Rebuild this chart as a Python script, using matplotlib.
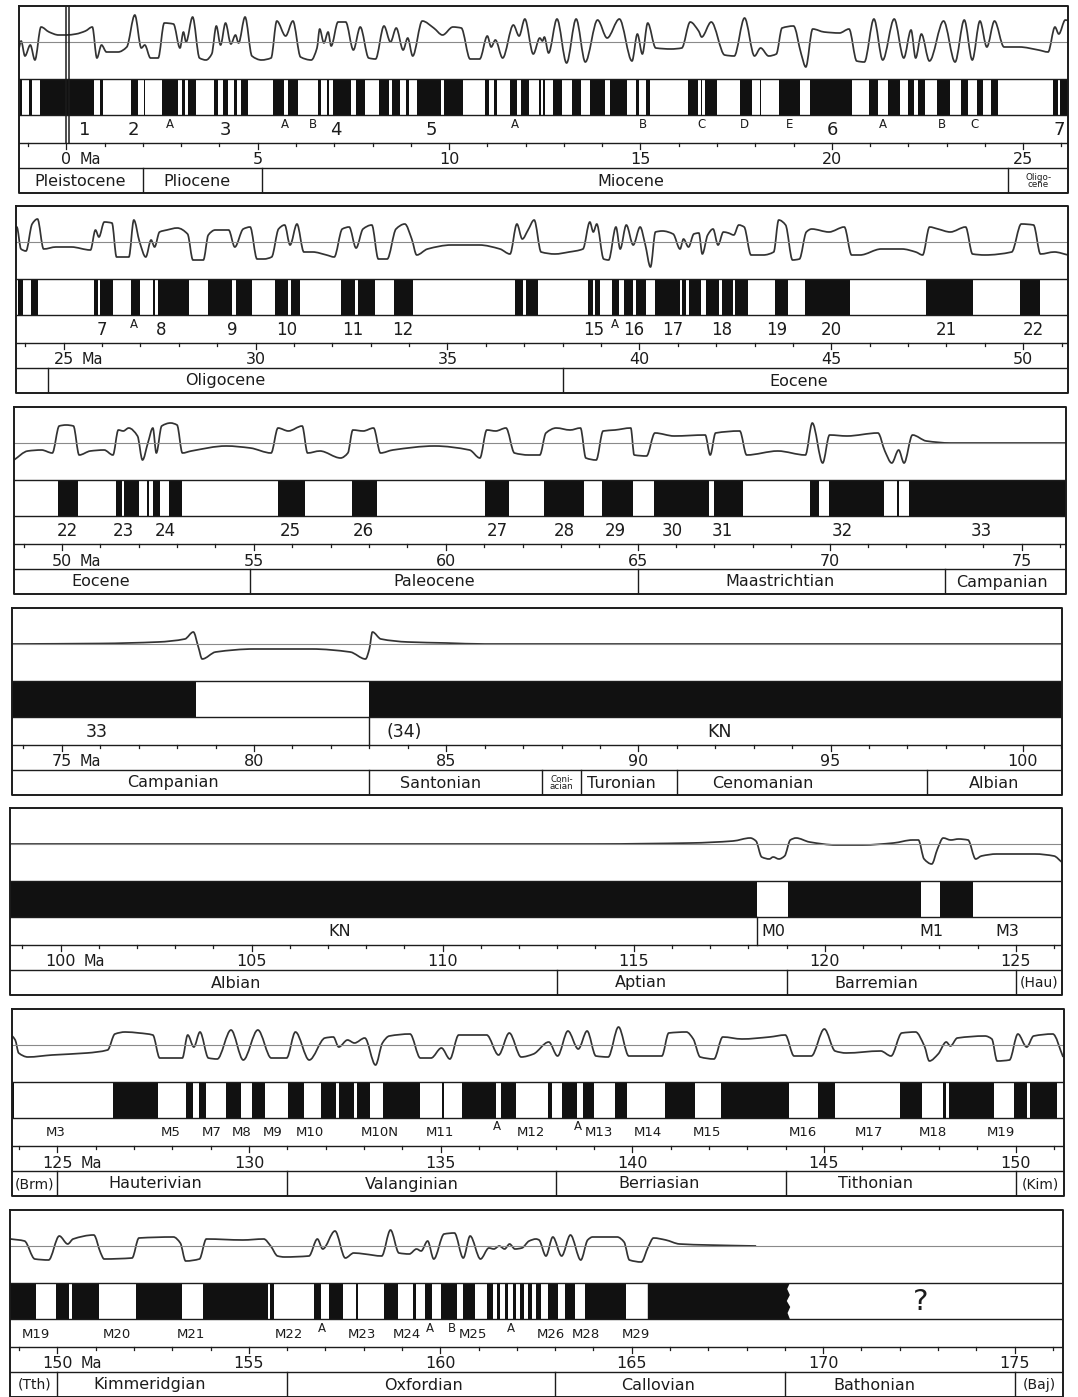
#!/usr/bin/env python3
"""Seven strips of modelled magnetic anomaly, polarity sequence and age scale, 0-176 Ma."""
import math

import matplotlib
matplotlib.use("Agg")
import matplotlib.pyplot as plt
from matplotlib.patches import Rectangle, Polygon, PathPatch
from matplotlib.path import Path

W, H = 1078, 1397
plt.rcParams.update({"font.family": "DejaVu Sans", "text.color": "#1c1c1c"})

# --- normal polarity (black) intervals, Ma; negative ages = mirrored ridge flank
NORM_A = [(-1.20, -1.17), (-0.97, -0.90), (-0.70, 0.73), (0.88, 0.95), (1.69, 1.88),
          (2.03, 2.06), (2.50, 2.93), (3.02, 3.10), (3.17, 3.40), (3.87, 3.96),
          (4.10, 4.22), (4.38, 4.46), (4.56, 4.76), (5.40, 5.68), (5.78, 6.06),
          (6.58, 6.65), (6.80, 6.87), (6.97, 7.45), (7.56, 7.80), (8.18, 8.42),
          (8.52, 8.72), (8.88, 8.96), (9.16, 9.80), (9.86, 10.36), (10.95, 11.04),
          (11.18, 11.24), (11.60, 11.78), (11.88, 12.08), (12.35, 12.40), (12.46, 12.51),
          (12.71, 12.94), (13.21, 13.44), (13.69, 14.07), (14.20, 14.66), (14.88, 14.97),
          (15.14, 15.24), (16.24, 16.51), (16.58, 16.62), (16.69, 17.01), (17.59, 17.91),
          (18.13, 18.16), (18.63, 19.17), (19.44, 20.53), (20.98, 21.21), (21.48, 21.79),
          (22.00, 22.15), (22.24, 22.43), (22.74, 23.10), (23.37, 23.55), (23.80, 23.95),
          (24.15, 24.33), (25.79, 25.90), (25.95, 26.29)]
NORM_B = [(26.76, 26.98), (27.33, 27.39), (27.46, 28.28), (28.77, 29.39), (29.48, 29.90),
          (30.51, 30.84), (30.93, 31.17), (32.23, 32.59), (32.68, 33.12), (33.62, 34.09),
          (36.76, 36.96), (37.05, 37.37), (38.66, 38.78), (38.84, 38.98), (39.30, 39.48),
          (39.59, 39.84), (39.90, 40.17), (40.42, 41.06), (41.10, 41.22), (41.30, 41.60),
          (41.73, 42.07), (42.14, 42.43), (42.50, 42.82), (43.54, 43.88), (44.31, 45.48),
          (47.47, 48.69), (49.91, 50.43)]
NORM_C = [(51.40, 51.56), (51.62, 52.01), (52.21, 52.26), (52.37, 52.55), (52.78, 53.14),
          (55.63, 56.34), (57.55, 58.22), (61.02, 61.66), (62.57, 63.59), (64.07, 64.89),
          (65.43, 66.86), (66.98, 67.75), (69.50, 69.73), (69.98, 71.42), (71.76, 71.82),
          (72.07, 78.49)]
NORM_D = [(83.00, 118.24), (119.05, 122.52), (123.02, 123.87)]
NORM_E = [(126.45, 127.63), (128.35, 128.54), (128.69, 128.87), (129.40, 129.78),
          (130.08, 130.41), (131.01, 131.44), (131.89, 132.28), (132.34, 132.75),
          (132.81, 133.16), (133.49, 134.46), (135.04, 135.09), (135.56, 136.45),
          (136.58, 136.97), (137.80, 137.91), (138.16, 138.55), (138.71, 139.00),
          (139.55, 139.85), (140.86, 141.63), (142.31, 144.08), (144.85, 145.29),
          (146.98, 147.57), (148.10, 148.19), (148.25, 149.43), (149.97, 150.30),
          (150.37, 151.08)]
NORM_F = [(152.06, 153.26), (153.80, 155.50), (155.55, 155.66), (156.70, 156.88),
          (157.09, 157.47), (157.79, 157.84), (158.54, 158.90), (159.30, 159.36),
          (159.60, 159.78), (160.03, 160.44), (160.60, 160.91), (161.23, 161.37),
          (161.48, 161.57), (161.69, 161.78), (161.89, 161.98), (162.09, 162.18),
          (162.29, 162.40), (162.50, 162.62), (162.82, 163.08), (163.26, 163.53),
          (163.79, 164.85)]
LAST_BLOCK = (165.42, 169.13)      # ends in a ragged edge, older part unknown

# --- anomaly profile (age Ma, height above the reference line in px)
CURVE_P1 = [(-1.25, -9), (-1.18, 1), (-1.08, -14), (-0.94, -3), (-0.82, -18), (-0.66, 15),
            (-0.45, 10), (-0.2, 7), (0.0, 7), (0.25, 8), (0.5, 11), (0.68, 15), (0.80, -16),
            (0.92, -3), (1.05, -10), (1.35, -10), (1.58, -5), (1.79, 27), (1.96, -6),
            (2.05, -3), (2.2, -16), (2.4, -16), (2.56, 19), (2.8, 18), (2.97, -6), (3.06, 10),
            (3.13, 0), (3.3, 25), (3.48, -16), (3.65, -18), (3.8, -12), (3.92, 16), (4.03, -3),
            (4.16, 19), (4.3, -2), (4.42, 7), (4.5, -1), (4.67, 25), (4.85, -14), (5.1, -18),
            (5.35, -16), (5.5, 21), (5.73, 6), (5.92, 21), (6.12, -15), (6.4, -18), (6.55, -6),
            (6.62, 13), (6.73, -1), (6.84, 10), (6.92, -4), (7.1, 20), (7.3, 20), (7.5, -8),
            (7.68, 15), (7.9, -16), (8.08, -17), (8.3, 16), (8.47, 0), (8.62, 14), (8.8, -8),
            (8.92, 4), (9.05, -14), (9.3, 21), (9.6, 14), (9.83, 7), (10.1, 15), (10.32, 14),
            (10.55, -17), (10.8, -17), (11.0, 6), (11.1, -5), (11.21, 2), (11.4, -16),
            (11.68, 17), (11.83, 6), (11.98, 23), (12.2, -12), (12.37, 4), (12.44, 1),
            (12.49, 5), (12.6, -11), (12.82, 23), (13.07, -21), (13.32, 23), (13.56, -20),
            (13.88, 22), (14.13, 4), (14.45, 23), (14.78, -19), (14.92, 8), (15.05, -12),
            (15.19, 19), (15.4, -6), (15.8, -7), (16.08, -6), (16.3, 20), (16.52, 11),
            (16.6, 5), (16.85, 20), (17.2, -13), (17.45, -14), (17.72, 24), (17.98, -14),
            (18.14, -6), (18.35, -14), (18.55, -12), (18.7, 14), (19.0, 16), (19.2, -12),
            (19.32, -25), (19.5, 13), (19.8, 10), (20.2, 9), (20.45, 13), (20.65, -19),
            (20.85, -20), (21.1, 23), (21.33, -18), (21.63, 23), (21.88, -16), (22.07, 12),
            (22.19, -16), (22.34, 8), (22.55, -19), (22.92, 21), (23.22, -20), (23.46, 22),
            (23.67, -18), (23.87, 21), (24.05, -5), (24.25, 21), (24.5, -5), (24.9, -5),
            (25.4, -8), (25.65, -10), (25.83, 15), (25.93, 8), (26.1, 22), (26.25, 20)]
CURVE_P2 = [(23.75, 14), (23.78, 15), (23.89, -7), (24.02, -9), (24.18, 18), (24.32, 23),
            (24.48, -7), (24.8, -5), (25.2, -5), (25.7, -8), (25.83, 12), (25.92, 5),
            (26.06, 20), (26.26, 19), (26.38, -15), (26.7, -15), (26.83, 22), (26.98, 0),
            (27.14, -15), (27.28, 2), (27.37, -5), (27.5, 10), (27.69, 12), (27.96, 14),
            (28.23, 8), (28.37, -18), (28.64, -18), (28.77, 7), (28.95, 12), (29.3, 12),
            (29.46, -5), (29.68, 13), (29.86, 15), (30.04, -17), (30.22, -17), (30.42, -15),
            (30.6, 13), (30.76, 17), (30.9, -3), (31.08, 18), (31.26, -10), (31.49, -10),
            (31.85, -13), (32.05, -15), (32.26, 13), (32.44, 15), (32.62, -6), (32.8, 13),
            (33.03, 17), (33.2, -17), (33.43, -17), (33.66, 13), (33.89, 18), (34.07, 3),
            (34.2, -13), (34.48, -7), (35.1, -3), (35.83, -3), (36.37, -7), (36.63, -12),
            (36.81, 18), (36.95, 3), (37.1, 12), (37.26, 22), (37.44, -10), (37.8, -12),
            (38.17, -10), (38.53, -7), (38.71, 20), (38.8, 10), (38.89, 18), (39.07, -17),
            (39.2, -18), (39.39, 15), (39.5, -7), (39.66, 17), (39.84, -3), (40.02, 15),
            (40.15, -2), (40.29, -25), (40.42, 10), (40.6, 11), (40.88, 8), (41.06, -7),
            (41.15, 3), (41.28, -5), (41.42, 8), (41.55, 9), (41.64, -12), (41.78, 7),
            (41.92, 13), (42.05, -3), (42.19, 10), (42.32, 9), (42.46, 7), (42.59, 17),
            (42.73, 15), (42.91, -13), (43.23, -13), (43.5, -10), (43.63, 22), (43.81, 17),
            (43.99, -18), (44.17, -17), (44.35, 10), (44.49, 13), (44.94, 10), (45.34, 15),
            (45.53, -13), (45.75, -13), (46.3, -7), (46.84, -7), (47.2, -10), (47.38, -13),
            (47.56, 15), (47.78, 13), (48.1, 10), (48.5, 15), (48.68, -12), (49.0, -13),
            (49.7, -10), (49.95, 18), (50.27, 17), (50.45, -12), (50.81, -10), (51.17, -13)]
CURVE_P3 = [(48.75, -17), (49.11, -8), (49.47, -7), (49.75, -10), (49.93, 17), (50.11, 18),
            (50.3, 17), (50.45, -12), (50.74, -8), (51.1, -7), (51.33, -12), (51.47, 13),
            (51.6, 12), (51.74, 15), (51.97, 7), (52.1, -17), (52.24, 0), (52.37, 15),
            (52.46, -10), (52.6, 17), (52.83, 20), (53.0, 18), (53.14, -10), (53.37, -8),
            (54.28, -3), (54.91, -5), (55.45, -10), (55.63, 15), (55.9, 12), (56.26, 17),
            (56.4, -10), (56.72, -8), (57.26, -15), (57.45, -10), (57.58, 13), (57.85, 12),
            (58.12, 15), (58.3, -10), (58.62, -7), (59.71, -3), (60.62, -7), (60.89, -15),
            (61.07, 13), (61.3, 12), (61.57, 15), (61.79, -10), (62.16, -12), (62.45, -12),
            (62.61, 10), (62.88, 15), (63.24, 13), (63.51, 15), (63.65, -15), (63.92, -17),
            (64.1, 12), (64.41, 13), (64.82, 15), (64.91, -12), (65.23, -13), (65.45, 10),
            (65.95, 7), (66.76, 8), (66.89, -12), (67.03, 10), (67.66, 12), (67.84, -12),
            (68.65, -8), (69.37, -12), (69.55, 20), (69.82, -20), (70.0, 8), (70.45, 7),
            (71.26, 10), (71.44, -8), (71.62, -20), (71.8, -7), (71.94, -20), (72.16, 8),
            (72.52, 2), (73.15, 0), (76.2, 0)]
CURVE_P4 = [(73.7, 0), (76.0, 0.5), (77.5, 2), (78.2, 5), (78.42, 12), (78.55, -3),
            (78.65, -15), (79.0, -8), (80.0, -5), (81.5, -5), (82.5, -8), (82.9, -15),
            (83.0, -5), (83.08, 12), (83.3, 5), (84.0, 2), (85.0, 1), (86.0, 0), (101.2, 0)]
CURVE_P5 = [(98.7, 0), (114.0, 0), (116.5, 1), (117.6, 3), (118.05, 6), (118.2, 3),
            (118.35, -13), (118.55, -15), (118.65, -13), (118.8, -15), (118.95, -12),
            (119.1, 4), (119.25, 6), (119.6, 2), (120.3, -1), (121.0, -1), (121.8, 1),
            (122.3, 4), (122.45, 4), (122.6, -15), (122.8, -20), (122.95, -5), (123.1, 6),
            (123.3, 4), (123.5, 5), (123.75, 4), (123.95, -15), (124.1, -12), (124.5, -10),
            (125.5, -10), (126.0, -12), (126.2, -18)]
CURVE_P6 = [(123.82, 9), (123.9, 5), (123.99, -8), (124.23, -12), (124.86, -10), (125.77, -8),
            (126.31, -5), (126.5, 11), (126.77, 13), (127.13, 12), (127.49, 10), (127.67, -13),
            (127.86, -13), (128.26, -13), (128.4, 10), (128.56, -2), (128.72, 13), (128.94, -13),
            (129.17, -14), (129.53, 15), (129.85, -15), (130.23, 15), (130.58, -13),
            (130.98, -13), (131.21, 13), (131.57, -15), (131.98, 7), (132.2, 8), (132.34, -2),
            (132.57, 5), (132.75, 2), (133.02, 7), (133.3, -20), (133.48, 2), (133.66, 9),
            (134.2, 11), (134.47, -13), (134.75, -13), (135.02, -3), (135.24, -14),
            (135.47, 10), (136.2, 10), (136.51, -10), (136.79, 12), (137.1, -12),
            (137.42, -9), (137.82, 3), (138.05, -11), (138.32, 14), (138.59, -4), (138.82, 14),
            (139.05, -11), (139.37, -12), (139.64, 18), (139.91, -11), (140.41, -11),
            (140.77, -11), (140.95, 12), (141.41, 13), (141.59, 6), (141.77, -12),
            (142.13, -14), (142.36, 8), (142.86, 6), (143.58, 8), (143.99, 10), (144.22, -11),
            (144.67, -11), (145.01, 16), (145.29, -6), (145.58, -8), (146.48, -6),
            (146.75, -11), (147.03, 12), (147.39, 13), (147.62, -1), (147.75, -16),
            (147.98, -9), (148.19, 3), (148.3, -1), (148.48, 7), (149.2, 9), (149.38, 6),
            (149.52, -16), (149.84, -15), (150.06, 11), (150.29, -2), (150.47, 9),
            (150.97, 11), (151.24, -12)]
CURVE_P7 = [(148.78, 7), (149.14, 5), (149.41, -13), (149.77, -14), (150.05, 10), (150.27, 2),
            (150.41, 7), (150.95, 11), (151.13, -7), (151.22, -13), (151.95, -12), (152.13, 8),
            (153.03, 9), (153.21, 3), (153.35, -15), (153.71, -13), (153.89, 7), (154.84, 6),
            (155.39, 7), (155.57, 0), (155.75, -10), (155.93, -11), (156.57, -10), (156.79, 7),
            (156.93, -3), (157.25, 15), (157.52, -12), (157.74, -7), (158.02, -8),
            (158.47, -10), (158.7, 16), (158.92, -7), (159.19, -8), (159.38, -3), (159.5, -5),
            (159.67, 5), (159.83, -13), (160.1, 12), (160.37, 13), (160.6, -12), (160.78, 10),
            (161.05, -13), (161.27, -2), (161.4, -3), (161.54, 0), (161.68, -3), (161.81, 2),
            (161.95, -3), (162.13, -2), (162.32, 5), (162.5, 7), (162.58, 6), (162.76, -10),
            (162.94, 9), (163.17, -10), (163.4, 11), (163.67, -14), (163.85, 6), (163.98, 9),
            (164.62, 9), (164.8, 4), (164.94, -14), (165.25, -16), (165.43, -1), (165.57, 8),
            (165.89, 6), (166.25, 2), (166.98, 1), (168.25, 0)]

# --- anomaly / chron labels (age, text, small raised letter?)
CHRONS_P1 = [(0.48, "1", 0), (1.76, "2", 0), (2.71, "A", 1), (4.17, "3", 0), (5.72, "A", 1),
             (6.45, "B", 1), (7.04, "4", 0), (9.54, "5", 0), (11.73, "A", 1), (15.06, "B", 1),
             (16.6, "C", 1), (17.73, "D", 1), (18.9, "E", 1), (20.01, "6", 0), (21.34, "A", 1),
             (22.88, "B", 1), (23.74, "C", 1), (25.95, "7", 0)]
CHRONS_P2 = [(26.0, "7", 0), (26.83, "A", 1), (27.55, "8", 0), (29.4, "9", 0), (30.81, "10", 0),
             (32.53, "11", 0), (33.84, "12", 0), (38.8, "15", 0), (39.36, "A", 1),
             (39.84, "16", 0), (40.88, "17", 0), (42.14, "18", 0), (43.59, "19", 0),
             (44.99, "20", 0), (48.01, "21", 0), (50.27, "22", 0)]
CHRONS_P3 = [(50.15, "22", 0), (51.6, "23", 0), (52.69, "24", 0), (55.95, "25", 0),
             (57.85, "26", 0), (61.34, "27", 0), (63.1, "28", 0), (64.41, "29", 0),
             (65.9, "30", 0), (67.2, "31", 0), (70.32, "32", 0), (73.96, "33", 0)]
CHRONS_P4 = [(75.9, "33", 0), (83.9, "(34)", 0), (92.1, "KN", 0)]
CHRONS_P5 = [(107.3, "KN", 0), (118.65, "M0", 0), (122.8, "M1", 0), (124.77, "M3", 0)]
CHRONS_P6 = [(124.95, "M3", 0), (127.95, "M5", 0), (129.03, "M7", 0), (129.8, "M8", 0),
             (130.62, "M9", 0), (131.6, "M10", 0), (133.4, "M10N", 0), (134.97, "M11", 0),
             (136.47, "A", 1), (137.35, "M12", 0), (138.58, "A", 1), (139.14, "M13", 0),
             (140.4, "M14", 0), (141.95, "M15", 0), (144.44, "M16", 0), (146.17, "M17", 0),
             (147.84, "M18", 0), (149.61, "M19", 0)]
CHRONS_P7 = [(149.45, "M19", 0), (151.55, "M20", 0), (153.5, "M21", 0), (156.05, "M22", 0),
             (156.92, "A", 1), (157.96, "M23", 0), (159.12, "M24", 0), (159.72, "A", 1),
             (160.3, "B", 1), (160.85, "M25", 0), (161.85, "A", 1), (162.9, "M26", 0),
             (163.8, "M28", 0), (165.1, "M29", 0)]
LABEL_ROW_DIVIDERS = [83.0, 118.24]
RIDGE_AXIS = [-0.02, 0.07]

# --- epochs / stages: boundaries (Ma) and (label age, name)
EPOCH_BOUNDS = [2.0, 5.1, 24.6, 38.0, 54.9, 65.0, 73.0, 83.0, 87.5, 88.5, 91.0, 97.5,
                113.0, 119.0, 125.0, 131.0, 138.0, 144.0, 150.0, 156.0, 163.0, 169.0, 175.0]
EPOCHS_P1 = [(0.37, "Pleistocene"), (3.42, "Pliocene"), (14.75, "Miocene"), (25.4, "Oligo-\ncene")]
EPOCHS_P2 = [(29.2, "Oligocene"), (44.15, "Eocene")]
EPOCHS_P3 = [(51.0, "Eocene"), (59.7, "Paleocene"), (68.7, "Maastrichtian"), (74.5, "Campanian")]
EPOCHS_P4 = [(77.9, "Campanian"), (84.85, "Santonian"), (88.0, "Coni-\nacian"),
             (89.55, "Turonian"), (93.25, "Cenomanian"), (99.25, "Albian")]
EPOCHS_P5 = [(104.6, "Albian"), (115.2, "Aptian"), (121.35, "Barremian"), (125.62, "(Hau)")]
EPOCHS_P6 = [(124.4, "(Brm)"), (127.55, "Hauterivian"), (134.25, "Valanginian"),
             (140.7, "Berriasian"), (146.35, "Tithonian"), (150.65, "(Kim)")]
EPOCHS_P7 = [(149.4, "(Tth)"), (152.4, "Kimmeridgian"), (159.55, "Oxfordian"),
             (165.7, "Callovian"), (171.35, "Bathonian"), (175.65, "(Baj)")]
UNKNOWN_AGE = 172.55

# --- strip layout in figure pixels
STARTS = [0, 25, 50, 75, 100, 125, 150]
TOPS = [6, 206, 407, 608, 808, 1009, 1210]
LEFTS = [19, 16, 14, 12, 10, 12, 10]
RIGHTS = [1068, 1068, 1066, 1062, 1062, 1064, 1063]
TICK0 = [66.3, 63.6, 61.9, 61.9, 60.5, 57.4, 57.4]
TICK25 = [1023.2, 1023.2, 1021.5, 1022.7, 1015.8, 1015.6, 1014.6]
CURVES = [CURVE_P1, CURVE_P2, CURVE_P3, CURVE_P4, CURVE_P5, CURVE_P6, CURVE_P7]
CHRONS = [CHRONS_P1, CHRONS_P2, CHRONS_P3, CHRONS_P4, CHRONS_P5, CHRONS_P6, CHRONS_P7]
EPOCHS = [EPOCHS_P1, EPOCHS_P2, EPOCHS_P3, EPOCHS_P4, EPOCHS_P5, EPOCHS_P6, EPOCHS_P7]
CHRON_SIZE = [13, 12, 12, 12.5, 11.5, 9.5, 9.5]

PH = 187                     # strip height, px
BASE, BAR0, BAR1, TICKY, EPY = 36, 73, 109, 137, 162
INK = "#1c1c1c"


def smooth_path(xs, ys):
    """Bezier path through the read points (monotone cubic, flat at extrema)."""
    n = len(xs)
    slopes = []
    for i in range(n):
        if i == 0 or i == n - 1:
            j, k = (0, 1) if i == 0 else (n - 2, n - 1)
            slopes.append((ys[k] - ys[j]) / (xs[k] - xs[j]))
            continue
        d0 = (ys[i] - ys[i - 1]) / (xs[i] - xs[i - 1])
        d1 = (ys[i + 1] - ys[i]) / (xs[i + 1] - xs[i])
        slopes.append(0.0 if d0 * d1 <= 0 else 2.0 / (1.0 / d0 + 1.0 / d1))
    verts, codes = [(xs[0], ys[0])], [Path.MOVETO]
    for i in range(n - 1):
        h = xs[i + 1] - xs[i]
        verts += [(xs[i] + h / 3, ys[i] + slopes[i] * h / 3),
                  (xs[i + 1] - h / 3, ys[i + 1] - slopes[i + 1] * h / 3),
                  (xs[i + 1], ys[i + 1])]
        codes += [Path.CURVE4] * 3
    return Path(verts, codes)


def strip(fig, i):
    s = 25.0 / (TICK25[i] - TICK0[i])
    lo = STARTS[i] + (LEFTS[i] - TICK0[i]) * s
    hi = STARTS[i] + (RIGHTS[i] - TICK0[i]) * s
    ax = fig.add_axes([LEFTS[i] / W, 1 - (TOPS[i] + PH) / H,
                       (RIGHTS[i] - LEFTS[i]) / W, PH / H])
    ax.set_xlim(lo, hi)
    ax.set_ylim(PH, 0)
    ax.axis("off")

    # polarity blocks
    for a, b in NORM_A + NORM_B + NORM_C + NORM_D + NORM_E + NORM_F:
        if b > lo and a < hi:
            ax.add_patch(Rectangle((a, BAR0), b - a, BAR1 - BAR0, fc="#111111", ec="none"))
    a, b = LAST_BLOCK
    if b > lo and a < hi:
        rag = [0, -0.07, 0, -0.08, 0.01, -0.06, 0]
        ys = [BAR0 + k * (BAR1 - BAR0) / (len(rag) - 1) for k in range(len(rag))]
        pts = [(a, BAR0)] + [(b + d, y) for d, y in zip(rag, ys)] + [(a, BAR1)]
        ax.add_patch(Polygon(pts, closed=True, fc="#111111", ec="none"))

    # anomaly profile
    ax.plot([lo, hi], [BASE, BASE], color="#8a8a8a", lw=0.8)
    xs = [p[0] for p in CURVES[i]]
    ys = [BASE - p[1] for p in CURVES[i]]
    ax.add_patch(PathPatch(smooth_path(xs, ys), fc="none", ec="#333333", lw=1.25,
                           joinstyle="round"))

    # frame and row rules
    for y in (BAR0, BAR1, TICKY, EPY):
        ax.plot([lo, hi], [y, y], color=INK, lw=1.0)
    ax.plot([lo, hi, hi, lo, lo], [0, 0, PH, PH, 0], color=INK, lw=1.4, clip_on=False)

    # age ticks and labels
    for m in range(math.ceil(lo), math.floor(hi) + 1):
        ln = 6 if m % 5 == 0 else 3
        ax.plot([m, m], [TICKY, TICKY + ln], color=INK, lw=0.9)
    for m in range(STARTS[i], STARTS[i] + 30, 5):
        if lo < m < hi:
            ax.text(m, 154, str(m), ha="center", va="center", fontsize=11.5, color=INK)
    ax.annotate("Ma", (STARTS[i], 154), xytext=(3.5 * len(str(STARTS[i])) + 6, 0),
                textcoords="offset points", ha="left", va="center", fontsize=10.5, color=INK)

    # chron labels
    for age, txt, small in CHRONS[i]:
        if small:
            ax.text(age, 118, txt, ha="center", va="center", fontsize=8.5, color=INK)
        else:
            ax.text(age, 124, txt, ha="center", va="center", fontsize=CHRON_SIZE[i],
                    color=INK)
    for d in LABEL_ROW_DIVIDERS:
        if lo < d < hi:
            ax.plot([d, d], [BAR1, TICKY], color=INK, lw=1.0)
    if i == 0:
        for r in RIDGE_AXIS:
            ax.plot([r, r], [0, TICKY], color=INK, lw=1.1)
    if lo < UNKNOWN_AGE < hi:
        ax.text(UNKNOWN_AGE, 92, "?", ha="center", va="center", fontsize=21, color=INK)

    # epoch / stage row
    for e in EPOCH_BOUNDS:
        if lo < e < hi:
            ax.plot([e, e], [EPY, PH], color=INK, lw=1.0)
    for age, name in EPOCHS[i]:
        multi = "\n" in name
        ax.text(age, 175, name, ha="center", va="center",
                fontsize=6.3 if multi else (10 if name.startswith("(") else 11.5),
                linespacing=0.85, color=INK)


def main():
    fig = plt.figure(figsize=(W / 100, H / 100), dpi=100)
    fig.patch.set_facecolor("white")
    for i in range(7):
        strip(fig, i)
    fig.savefig("out.png", dpi=100, facecolor="white")
    plt.close(fig)


if __name__ == "__main__":
    main()
